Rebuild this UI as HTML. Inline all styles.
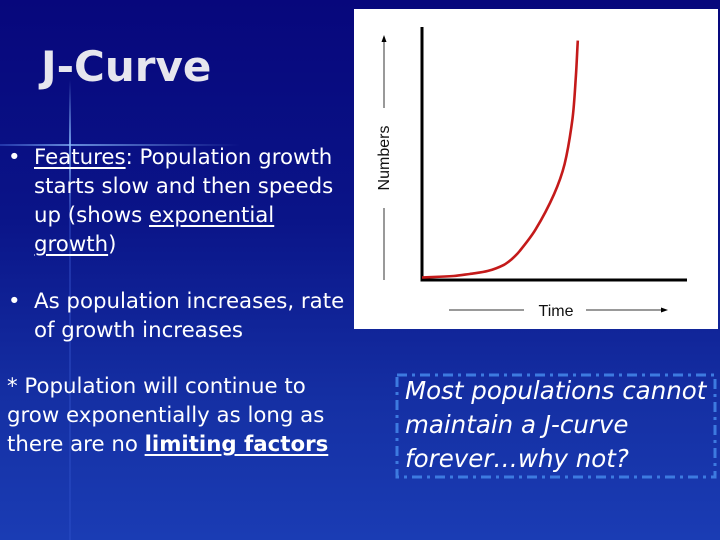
<!DOCTYPE html>
<html><head><meta charset="utf-8"><style>
html,body{margin:0;padding:0}
body{width:720px;height:540px;overflow:hidden;position:relative;font-family:"DejaVu Sans","Liberation Sans",sans-serif;color:#fff;
background:linear-gradient(180deg,#07077c 0%,#0a1488 40%,#1530a4 75%,#1a3cb4 100%);}
.t{position:absolute;white-space:nowrap}
u{text-decoration:underline;text-underline-offset:3px}
</style></head><body>
<div class="t" style="left:69px;top:80px;width:2px;height:460px;background:linear-gradient(180deg,rgba(120,170,255,0) 0%,rgba(140,190,255,.8) 14%,rgba(90,130,255,.25) 30%,rgba(90,130,255,.12) 100%)"></div>
<div class="t" style="left:0;top:144px;width:240px;height:2px;background:linear-gradient(90deg,rgba(90,140,255,.3),rgba(140,190,255,.7) 30%,rgba(120,170,255,0))"></div>
<div class="t" style="left:41px;top:42px;font-size:42px;font-weight:bold;color:#e6e6ee">J-Curve</div>
<div style="position:absolute;left:0;top:0;font-size:21.3px;line-height:29px">
<div class="t" style="left:8px;top:143px">•</div>
<div class="t" style="left:34px;top:143px"><u>Features</u>: Population growth<br>starts slow and then speeds<br>up (shows <u>exponential</u><br><u>growth</u>)</div>
<div class="t" style="left:8px;top:287px">•</div>
<div class="t" style="left:34px;top:287px">As population increases, rate<br>of growth increases</div>
<div class="t" style="left:7px;top:372px">* Population will continue to<br>grow exponentially as long as<br>there are no <b><u>limiting factors</u></b></div>
</div>
<svg class="t" style="left:0;top:0" width="720" height="540">
<rect x="354" y="9" width="364" height="320" fill="#fff"/>
<line x1="422" y1="27" x2="422" y2="281" stroke="#000" stroke-width="3"/>
<line x1="420.5" y1="280" x2="687" y2="280" stroke="#000" stroke-width="3"/>
<line x1="384" y1="208" x2="384" y2="280" stroke="#333" stroke-width="1"/>
<line x1="384" y1="108" x2="384" y2="40" stroke="#333" stroke-width="1"/>
<polygon points="384,35 381.5,42 386.5,42" fill="#000"/>
<text x="389" y="158" transform="rotate(-90 389 158)" text-anchor="middle" font-family="Liberation Sans,sans-serif" font-size="16" fill="#111">Numbers</text>
<line x1="449" y1="310" x2="524" y2="310" stroke="#333" stroke-width="1"/>
<line x1="586" y1="310" x2="662" y2="310" stroke="#333" stroke-width="1"/>
<polygon points="668,310 661,307.5 661,312.5" fill="#000"/>
<text x="556" y="316" text-anchor="middle" font-family="Liberation Sans,sans-serif" font-size="16" fill="#111">Time</text>
<path id="curve" fill="none" stroke="#c41a1a" stroke-width="2.6"/>
</svg>
<script>
const times=[0,12,18,25,31,34,37,43,50,54,57,58.3,59];
const numbers=[1,1.6,2.4,3.6,6,8.3,11.5,20,34,46,64,81,95];
const xs=t=>422+t*2.64;
const ys=n=>280-n*2.52;
const P=times.map((t,i)=>[xs(t),ys(numbers[i])]);
const dist=(a,b)=>Math.hypot(a[0]-b[0],a[1]-b[1]);
function tan(i){const a=P[Math.max(0,i-1)],b=P[Math.min(P.length-1,i+1)];const dx=b[0]-a[0],dy=b[1]-a[1],l=Math.hypot(dx,dy)||1;return [dx/l,dy/l];}
let d='M'+P[0][0].toFixed(1)+','+P[0][1].toFixed(1);
for(let i=0;i<P.length-1;i++){const p1=P[i],p2=P[i+1],L=dist(p1,p2)/3,t1=tan(i),t2=tan(i+1);
d+=' C'+(p1[0]+t1[0]*L).toFixed(1)+','+(p1[1]+t1[1]*L).toFixed(1)+' '+(p2[0]-t2[0]*L).toFixed(1)+','+(p2[1]-t2[1]*L).toFixed(1)+' '+p2[0].toFixed(1)+','+p2[1].toFixed(1);}
document.getElementById('curve').setAttribute('d',d);
</script>
<svg class="t" style="left:0;top:0" width="720" height="540">
<rect x="397" y="375" width="318" height="102" fill="none" stroke="#3d7ae0" stroke-width="3" stroke-dasharray="10,5,3,5"/>
</svg>
<div class="t" style="left:405px;top:374px;font-size:24.5px;font-style:italic;line-height:34px;color:#fff">Most populations cannot<br>maintain a J-curve<br>forever…why not?</div>
</body></html>
